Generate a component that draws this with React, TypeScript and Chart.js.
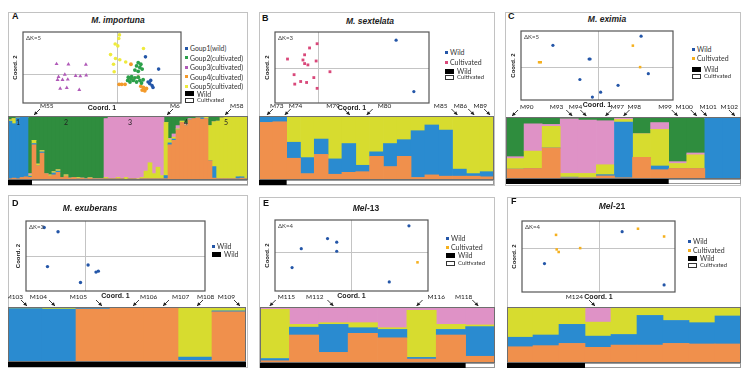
import React, { useEffect, useRef } from 'react';
import { Chart, registerables } from 'chart.js';
Chart.register(...registerables);

const FONT = '"Liberation Sans", Arial, sans-serif';
const SMALL_FONT = 'Lato, "Liberation Sans", sans-serif';

// STRUCTURE clusters, bottom -> top
const CLUSTER_NAMES = ['orange', 'blue', 'yellow', 'pink', 'green'];
const CLUSTER_COLORS = ['#f0904c', '#2a8bd0', '#d7dc2f', '#df92c6', '#2f8d3e'];

// ---------- STRUCTURE membership rows [orange, blue, yellow, pink, green] ----------
const structA = [
  [0.02, 0.90, 0.02, 0, 0.06], [0.03, 0.85, 0.08, 0, 0.04], [0.02, 0.95, 0, 0, 0.03], [0.04, 0.94, 0, 0, 0.02], [0.05, 0.93, 0, 0, 0.02],
  [0.04, 0.02, 0.02, 0.02, 0.90], [0.55, 0.02, 0.05, 0, 0.38], [0.22, 0, 0.03, 0, 0.75], [0.42, 0.02, 0.02, 0, 0.54], [0.10, 0, 0, 0, 0.90],
  [0.06, 0, 0.02, 0, 0.92], [0.08, 0.03, 0.02, 0, 0.87], [0.12, 0.02, 0.02, 0, 0.84], [0.04, 0, 0, 0, 0.96], [0.06, 0, 0.02, 0, 0.92],
  [0.03, 0, 0, 0, 0.97], [0.04, 0, 0, 0, 0.96], [0.02, 0, 0.02, 0, 0.96], [0.03, 0, 0, 0, 0.97], [0.02, 0, 0, 0, 0.98],
  [0.03, 0, 0.01, 0, 0.96], [0.02, 0, 0, 0, 0.98], [0.02, 0, 0, 0, 0.98], [0.02, 0, 0, 0, 0.98],
  [0.02, 0, 0.02, 0.92, 0.04], [0.02, 0, 0, 0.96, 0.02], [0.02, 0, 0, 0.97, 0.01], [0.02, 0, 0.02, 0.94, 0.02], [0.02, 0, 0, 0.96, 0.02],
  [0.01, 0, 0.03, 0.95, 0.01], [0.02, 0, 0, 0.97, 0.01], [0.02, 0, 0, 0.96, 0.02], [0.01, 0, 0.01, 0.97, 0.01], [0.02, 0, 0.02, 0.95, 0.01],
  [0.02, 0, 0.12, 0.85, 0.01], [0.02, 0, 0.25, 0.72, 0.01], [0.02, 0, 0.08, 0.89, 0.01], [0.02, 0, 0.18, 0.79, 0.01], [0.02, 0, 0.05, 0.92, 0.01],
  [0.02, 0.05, 0.83, 0, 0.10], [0.55, 0.03, 0.05, 0.02, 0.35], [0.62, 0.02, 0.03, 0.05, 0.28], [0.78, 0, 0.02, 0.05, 0.15], [0.90, 0, 0.02, 0, 0.08],
  [0.85, 0, 0.01, 0.02, 0.12], [0.94, 0, 0, 0.02, 0.04], [0.96, 0, 0, 0, 0.04], [0.97, 0, 0, 0, 0.03], [0.95, 0.02, 0, 0, 0.03], [0.96, 0, 0.02, 0, 0.02],
  [0.30, 0, 0.55, 0, 0.15], [0.03, 0.18, 0.70, 0, 0.09], [0.02, 0, 0.90, 0, 0.08], [0.02, 0, 0.95, 0, 0.03], [0.02, 0, 0.96, 0, 0.02],
  [0.02, 0, 0.97, 0, 0.01], [0.02, 0, 0.96, 0, 0.02], [0.02, 0.03, 0.93, 0, 0.02], [0.03, 0.02, 0.93, 0, 0.02], [0.02, 0, 0.97, 0, 0.01],
];
const structB = [
  [0.90, 0.10, 0, 0, 0], [0.91, 0.09, 0, 0, 0], [0.34, 0.25, 0.41, 0, 0], [0.10, 0.25, 0.65, 0, 0], [0.40, 0.24, 0.36, 0, 0],
  [0.09, 0.24, 0.67, 0, 0], [0.12, 0.45, 0.43, 0, 0], [0.13, 0.10, 0.77, 0, 0], [0.37, 0.07, 0.56, 0, 0], [0.21, 0.36, 0.43, 0, 0],
  [0.37, 0.26, 0.37, 0, 0], [0.04, 0.73, 0.23, 0, 0], [0.08, 0.78, 0.14, 0, 0], [0.06, 0.72, 0.22, 0, 0], [0.06, 0.11, 0.83, 0, 0],
  [0.06, 0.04, 0.90, 0, 0], [0.05, 0.08, 0.87, 0, 0],
];
const structC = [
  [0.16, 0, 0.17, 0.03, 0.64], [0.17, 0, 0.28, 0.44, 0.11], [0.50, 0, 0.35, 0.03, 0.12], [0.02, 0.01, 0.06, 0.88, 0.03],
  [0.02, 0, 0.07, 0.86, 0.05], [0.05, 0.02, 0.16, 0.71, 0.06], [0.02, 0.90, 0.04, 0.02, 0.02], [0.35, 0, 0.38, 0, 0.27],
  [0.15, 0.06, 0.59, 0.11, 0.09], [0.17, 0, 0.08, 0.03, 0.72], [0.17, 0, 0.22, 0.03, 0.58], [0, 0.98, 0, 0, 0.02], [0, 0.98, 0, 0.01, 0.01],
];
const structD = [
  [0, 0.97, 0.03, 0, 0], [0, 0.96, 0.04, 0, 0], [0.96, 0.03, 0.01, 0, 0], [0.98, 0, 0.02, 0, 0],
  [0.98, 0, 0.02, 0, 0], [0.03, 0.06, 0.91, 0, 0], [0.91, 0.02, 0.07, 0, 0],
];
const structE = [
  [0.04, 0.04, 0.88, 0.04, 0], [0.50, 0.14, 0.05, 0.31, 0], [0.19, 0.50, 0.03, 0.28, 0], [0.53, 0.10, 0.09, 0.28, 0],
  [0.45, 0.15, 0.03, 0.37, 0], [0.07, 0.03, 0.84, 0.06, 0], [0.50, 0.10, 0.09, 0.31, 0], [0.12, 0.53, 0.03, 0.32, 0],
];
const structF = [
  [0.29, 0.17, 0.54, 0, 0], [0.31, 0.19, 0.50, 0, 0], [0.35, 0.34, 0.31, 0, 0], [0.28, 0.20, 0.25, 0.27, 0], [0.32, 0.19, 0.49, 0, 0],
  [0.32, 0.53, 0.15, 0, 0], [0.35, 0.41, 0.24, 0, 0], [0.34, 0.38, 0.28, 0, 0], [0.34, 0.50, 0.16, 0, 0],
];

// number of wild individuals (black strip) per panel
const wildA = 6, wildB = 2, wildC = 9, wildD = 7, wildE = 7, wildF = 3;

// sample labels above STRUCTURE plots:
// [label, individual index, arrow side ('R' = label right of tip), tip shift px, label gap px]
const markersA = [['M55', 6, 'R', 0, 6], ['M6', 39, 'R', 1, 3], ['M58', 54, 'R', -1, 5]];
const markersB = [['M73', 0, 'R', 1, 3], ['M74', 1, 'R', 5, 4], ['M79', 6, 'L', 1, 10], ['M80', 7, 'R', 4, 11], ['M85', 14, 'L', -2, 10], ['M86', 15, 'L', 1, 7], ['M89', 16, 'L', 3, 3]];
const markersC = [['M90', 0, 'R', -3, 8], ['M93', 3, 'L', 3, 9], ['M94', 4, 'L', -1, 4], ['M97', 5, 'R', 0, 5], ['M98', 6, 'R', 0, 4], ['M99', 9, 'L', 0, 6], ['M100', 10, 'L', 1, 4], ['M101', 11, 'L', -7, -10], ['M102', 12, 'L', 3, -3]];
const markersD = [['M103', 0, 'L', 2, 4], ['M104', 1, 'L', -4, 8], ['M105', 2, 'L', 9, 15], ['M106', 3, 'R', 6, 7], ['M107', 4, 'R', 2, 9], ['M108', 5, 'R', 2, 0], ['M109', 6, 'L', 11, 5]];
const markersE = [['M115', 0, 'R', -5, 8], ['M112', 2, 'L', 0, 10], ['M116', 5, 'R', -5, 11], ['M118', 7, 'L', -2, 6]];
const markersF = [['M124', 3, 'L', -3, 12]];
const groupLabelsA = [['1', 2], ['2', 14], ['3', 30], ['4', 44], ['5', 54]];

// ---------- PCoA coordinates [coord1, coord2] ----------
const pcoaA_group1 = [[0.85, 0.53], [1.25, 0.15], [1.01, -0.20], [0.98, -0.30], [1.05, -0.36], [1.08, -0.42], [0.93, -0.25]];
const pcoaA_group2 = [[0.63, 0.35], [0.71, 0.30], [0.58, 0.25], [0.68, 0.20], [0.75, 0.15], [0.53, 0.12], [0.63, 0.08], [0.33, -0.10], [0.41, -0.15], [0.48, -0.20], [0.58, -0.25], [0.68, -0.20], [0.31, -0.20], [0.43, -0.08], [0.78, -0.18], [0.53, -0.12], [0.63, -0.10], [0.38, -0.25], [0.73, -0.28]];
const pcoaA_group3 = [[-1.85, 0.31], [-1.49, 0.30], [-0.96, 0.29], [-1.79, -0.09], [-1.60, -0.02], [-1.51, -0.17], [-1.67, -0.18], [-1.27, -0.06], [-1.13, -0.07], [-0.95, -0.04], [-1.82, -0.18], [-1.54, -0.43], [-1.74, -0.45], [-1.16, -0.49]];
const pcoaA_group4 = [[0.41, 0.30], [0.05, -0.32], [0.13, -0.32], [0.23, -0.32], [0.63, -0.10], [0.71, -0.38], [0.75, -0.50], [0.83, -0.52], [0.88, -0.45], [0.48, -0.15], [0.36, -0.12], [0.79, -0.42]];
const pcoaA_group5 = [[0.06, 1.21], [0.04, 1.10], [-0.07, 0.93], [0.01, 0.87], [0.79, 0.79], [-0.21, 0.60], [-0.06, 0.48], [0.07, 0.44], [0.25, 0.37], [-0.12, 0.30], [-0.10, 0.07]];
const pcoaB_wild = [[2.36, 0.85], [2.90, -0.73]];
const pcoaB_cultivated = [[-0.04, 0.74], [-0.27, 0.61], [-0.94, 0.27], [-0.42, 0.40], [-0.47, 0.24], [-0.42, 0.13], [-0.32, 0.09], [-0.07, 0.21], [0.35, -0.12], [-0.74, -0.21], [-0.14, -0.30], [-0.72, -0.50], [-0.54, -0.42], [-0.36, -0.45], [-0.04, -0.63]];
const pcoaC_wild = [[-1.37, 0.66], [-0.27, 0.24], [-0.24, 0.24], [-0.55, -0.39], [-0.17, -0.93], [0.08, -0.78], [0.61, -0.57], [1.53, -0.21], [1.31, 0.94]];
const pcoaC_cultivated = [[-1.79, 0.14], [-1.74, 0.14], [1.06, 0.65], [1.28, -0.01]];
const pcoaD_wild = [[-1.25, 0.89], [-0.83, 0.76], [-1.15, -0.31], [0.08, -0.26], [0.32, -0.48], [0.39, -0.45], [-0.15, -0.80]];
const pcoaE_wild = [[-0.70, 0.41], [-0.42, 0.30], [-0.42, 0.02], [-1.50, 0.10], [-1.78, -0.48], [1.78, 0.80], [1.18, -0.92]];
const pcoaE_cultivated = [[2.04, -0.32]];
const pcoaF_wild = [[-1.64, -0.49], [0.71, 0.50], [1.98, -1.15]];
const pcoaF_cultivated = [[-1.29, 0.40], [-1.27, -0.05], [-1.21, -0.13], [-0.56, -0.01], [1.19, 0.59], [1.98, 0.35]];

const C_WILD = '#2456a8';
const C_CULT = '#f5b01e';

// ---------- drawing helpers ----------
function drawArrow(ctx: any, x1: number, y1: number, x2: number, y2: number) {
  ctx.beginPath(); ctx.moveTo(x1, y1); ctx.lineTo(x2, y2); ctx.stroke();
  const ang = Math.atan2(y2 - y1, x2 - x1); const L = 4;
  ctx.beginPath(); ctx.moveTo(x2, y2);
  ctx.lineTo(x2 - L * Math.cos(ang - 0.5), y2 - L * Math.sin(ang - 0.5));
  ctx.lineTo(x2 - L * Math.cos(ang + 0.5), y2 - L * Math.sin(ang + 0.5));
  ctx.closePath(); ctx.fill();
}

const S_PAD_TOP = 22, S_PAD_BOTTOM = 8;

function StructureChart({ rows, box, wildCount, markers, groupLabels }: any) {
  const ref = useRef<HTMLCanvasElement>(null);
  useEffect(() => {
    const decor = {
      id: 'structDecor',
      afterDatasetsDraw(chart: any) {
        const { ctx, chartArea: a, scales } = chart;
        const x = scales.x;
        ctx.save();
        ctx.strokeStyle = '#6e6e6e'; ctx.lineWidth = 1;
        ctx.strokeRect(a.left + 0.5, a.top + 0.5, a.right - a.left - 1, a.bottom - a.top - 1);
        const step = x.getPixelForValue(1) - x.getPixelForValue(0);
        const wEnd = wildCount >= rows.length ? a.right : x.getPixelForValue(wildCount) - step / 2;
        ctx.fillStyle = '#fff'; ctx.fillRect(a.left, a.bottom, a.right - a.left, 5);
        ctx.strokeStyle = '#999'; ctx.strokeRect(a.left + 0.5, a.bottom + 0.5, a.right - a.left - 1, 4);
        ctx.fillStyle = '#000'; ctx.fillRect(a.left, a.bottom, wEnd - a.left, 5);
        ctx.font = '6.5px ' + SMALL_FONT; ctx.textBaseline = 'middle';
        ctx.fillStyle = '#222'; ctx.strokeStyle = '#222'; ctx.lineWidth = 0.9;
        markers.forEach(([label, idx, side, shift, gap]: any) => {
          const tx = x.getPixelForValue(idx) + shift; const ty = a.top - 1;
          const dir = side === 'R' ? 1 : -1;
          drawArrow(ctx, tx + dir * 6, ty - 6, tx, ty);
          ctx.textAlign = side === 'R' ? 'left' : 'right';
          ctx.fillText(label, tx + dir * gap, a.top - 10);
        });
        if (groupLabels) {
          ctx.textAlign = 'center'; ctx.font = '7px ' + SMALL_FONT;
          groupLabels.forEach(([t, idx]: any) => ctx.fillText(t, x.getPixelForValue(idx), a.top + 7));
        }
        ctx.restore();
      },
    };
    const chart = new Chart(ref.current as any, {
      type: 'bar',
      data: {
        labels: rows.map((_: any, i: number) => String(i + 1)),
        datasets: CLUSTER_NAMES.map((n, k) => ({
          label: n, data: rows.map((r: number[]) => r[k]), backgroundColor: CLUSTER_COLORS[k],
          borderWidth: 0, barPercentage: 1, categoryPercentage: 1,
        })),
      },
      options: {
        responsive: false, animation: false,
        layout: { padding: { top: S_PAD_TOP, bottom: S_PAD_BOTTOM, left: 0, right: 0 } },
        plugins: { legend: { display: false }, tooltip: { enabled: false } },
        scales: {
          x: { display: false, stacked: true },
          y: { display: false, stacked: true, min: 0, max: 1 },
        },
      },
      plugins: [decor],
    } as any);
    return () => chart.destroy();
  }, []);
  return <canvas ref={ref} width={box.w} height={box.h + S_PAD_TOP + S_PAD_BOTTOM}
    style={{ position: 'absolute', left: box.x, top: box.y - S_PAD_TOP }} />;
}

const P_PAD = { left: 16, top: 2, right: 2, bottom: 12 };

function PcoaChart({ box, xRange, yRange, series, deltaK }: any) {
  const ref = useRef<HTMLCanvasElement>(null);
  useEffect(() => {
    const decor = {
      id: 'pcoaDecor',
      beforeDatasetsDraw(chart: any) {
        const { ctx, chartArea: a, scales } = chart;
        const x0 = Math.round(scales.x.getPixelForValue(0)) + 0.5;
        const y0 = Math.round(scales.y.getPixelForValue(0)) + 0.5;
        ctx.save(); ctx.strokeStyle = '#c4c4c4'; ctx.lineWidth = 1;
        ctx.beginPath(); ctx.moveTo(x0, a.top); ctx.lineTo(x0, a.bottom); ctx.moveTo(a.left, y0); ctx.lineTo(a.right, y0); ctx.stroke();
        ctx.restore();
      },
      afterDatasetsDraw(chart: any) {
        const { ctx, chartArea: a } = chart;
        ctx.save();
        ctx.strokeStyle = '#555'; ctx.lineWidth = 1.2;
        ctx.strokeRect(a.left, a.top, a.right - a.left, a.bottom - a.top);
        ctx.fillStyle = '#444'; ctx.font = '6px ' + SMALL_FONT; ctx.textAlign = 'left'; ctx.textBaseline = 'middle';
        ctx.fillText('ΔK=' + deltaK, a.left + 3, a.top + 6);
        ctx.fillStyle = '#222'; ctx.font = 'bold 7px ' + FONT; ctx.textAlign = 'center';
        ctx.fillText('Coord. 1', (a.left + a.right) / 2, a.bottom + 5);
        ctx.translate(a.left - 8, (a.top + a.bottom) / 2); ctx.rotate(-Math.PI / 2);
        ctx.font = 'bold 6px ' + FONT;
        ctx.fillText('Coord. 2', 0, 0);
        ctx.restore();
      },
    };
    const chart = new Chart(ref.current as any, {
      type: 'scatter',
      data: {
        datasets: series.map((s: any) => ({
          label: s.label, data: s.points.map(([x, y]: number[]) => ({ x, y })),
          pointStyle: s.style, pointRadius: s.radius, backgroundColor: s.color, borderColor: s.color, borderWidth: 0,
        })),
      },
      options: {
        responsive: false, animation: false,
        layout: { padding: P_PAD },
        plugins: { legend: { display: false }, tooltip: { enabled: false } },
        scales: {
          x: { display: false, min: xRange[0], max: xRange[1] },
          y: { display: false, min: yRange[0], max: yRange[1] },
        },
      },
      plugins: [decor],
    } as any);
    return () => chart.destroy();
  }, []);
  return <canvas ref={ref} width={box.w + P_PAD.left + P_PAD.right} height={box.h + P_PAD.top + P_PAD.bottom}
    style={{ position: 'absolute', left: box.x - P_PAD.left, top: box.y - P_PAD.top }} />;
}

function Legend({ x, ys, items, size }: any) {
  return <>{items.map((it: any, i: number) => (
    <div key={i} style={{
      position: 'absolute', left: x, top: ys[i] - 5, height: 10, display: 'flex', alignItems: 'center',
      whiteSpace: 'nowrap', fontFamily: SMALL_FONT, fontSize: it.kind === 'white' ? 6 : (size || 7), color: '#333', lineHeight: '10px',
    }}>
      {it.kind === 'dot' && <span style={{ display: 'inline-block', width: 3, height: 3, background: it.color, marginRight: 2 }} />}
      {it.kind === 'black' && <span style={{ display: 'inline-block', width: 9, height: 5, background: '#000', marginRight: 3 }} />}
      {it.kind === 'white' && <span style={{ display: 'inline-block', width: 7, height: 3, border: '1px solid #333', marginRight: 3 }} />}
      {it.text}
    </div>
  ))}</>;
}

const wildDot = (t = 'Wild') => ({ kind: 'dot', color: C_WILD, text: t });
const cultDot = (c = C_CULT) => ({ kind: 'dot', color: c, text: 'Cultivated' });
const blackWild = { kind: 'black', text: 'Wild' };
const whiteCult = { kind: 'white', text: 'Cultivated' };

const panels = [
  {
    letter: 'A', title: <i>M. importuna</i>, titleX: 118, titleY: 20, letterX: 12, letterY: 11,
    frame: { x: 8, y: 12, w: 240, h: 174 },
    struct: { rows: structA, box: { x: 8, y: 116, w: 240, h: 64 }, wild: wildA, markers: markersA, groups: groupLabelsA },
    pcoa: {
      box: { x: 23, y: 30, w: 160, h: 73 }, xRange: [-2.87, 1.93], yRange: [-0.9, 1.3], deltaK: 5,
      series: [
        { label: 'Goup1(wild)', color: C_WILD, style: 'circle', radius: 1.8, points: pcoaA_group1 },
        { label: 'Goup2(cultivated)', color: '#2ca04a', style: 'circle', radius: 1.9, points: pcoaA_group2 },
        { label: 'Goup3(cultivated)', color: '#b05ab8', style: 'triangle', radius: 2.3, points: pcoaA_group3 },
        { label: 'Goup4(cultivated)', color: '#f39a2a', style: 'circle', radius: 1.9, points: pcoaA_group4 },
        { label: 'Goup5(cultivated)', color: '#eeea3c', style: 'circle', radius: 1.8, points: pcoaA_group5 },
      ],
    },
    legend: {
      x: 185, ys: [48, 57.5, 67, 76.5, 86, 93.5, 100], size: 6.8,
      items: [
        { kind: 'dot', color: C_WILD, text: 'Goup1(wild)' }, { kind: 'dot', color: '#2ca04a', text: 'Goup2(cultivated)' },
        { kind: 'dot', color: '#b05ab8', text: 'Goup3(cultivated)' }, { kind: 'dot', color: '#f39a2a', text: 'Goup4(cultivated)' },
        { kind: 'dot', color: '#eeea3c', text: 'Goup5(cultivated)' }, blackWild, whiteCult,
      ],
    },
  },
  {
    letter: 'B', title: <i>M. sextelata</i>, titleX: 370, titleY: 21, letterX: 262, letterY: 13,
    frame: { x: 259, y: 12, w: 236, h: 174 },
    struct: { rows: structB, box: { x: 259, y: 116, w: 235, h: 64 }, wild: wildB, markers: markersB },
    pcoa: {
      box: { x: 275, y: 30, w: 156, h: 73 }, xRange: [-1.32, 3.36], yRange: [-1.08, 1.10], deltaK: 3,
      series: [
        { label: 'Wild', color: C_WILD, style: 'circle', radius: 1.6, points: pcoaB_wild },
        { label: 'Cultivated', color: '#d9487a', style: 'rect', radius: 2, points: pcoaB_cultivated },
      ],
    },
    legend: { x: 445, ys: [52, 62, 71, 77], items: [wildDot(), cultDot('#d9487a'), blackWild, whiteCult] },
  },
  {
    letter: 'C', title: <i>M. eximia</i>, titleX: 607, titleY: 19, letterX: 508, letterY: 11,
    frame: { x: 505, y: 12, w: 236, h: 174 },
    struct: { rows: structC, box: { x: 506, y: 117, w: 235, h: 62 }, wild: wildC, markers: markersC },
    pcoa: {
      box: { x: 521, y: 29, w: 154, h: 71 }, xRange: [-2.34, 2.28], yRange: [-1.02, 1.10], deltaK: 5,
      series: [
        { label: 'Wild', color: C_WILD, style: 'circle', radius: 1.6, points: pcoaC_wild },
        { label: 'Cultivated', color: C_CULT, style: 'rect', radius: 1.8, points: pcoaC_cultivated },
      ],
    },
    legend: { x: 692, ys: [49, 58, 69, 76], items: [wildDot(), cultDot(), blackWild, whiteCult] },
  },
  {
    letter: 'D', title: <i>M. exuberans</i>, titleX: 90, titleY: 208, letterX: 12, letterY: 198,
    frame: { x: 8, y: 195, w: 240, h: 173 },
    struct: { rows: structD, box: { x: 8, y: 307, w: 238, h: 55 }, wild: wildD, markers: markersD },
    pcoa: {
      box: { x: 26, y: 219, w: 181, h: 72 }, xRange: [-1.80, 3.62], yRange: [-1.06, 1.09], deltaK: 3,
      series: [{ label: 'Wild', color: C_WILD, style: 'circle', radius: 1.7, points: pcoaD_wild }],
    },
    legend: { x: 212, ys: [246, 254], items: [wildDot(), blackWild] },
  },
  {
    letter: 'E', title: <><i>Mel</i>-13</>, titleX: 366, titleY: 208, letterX: 263, letterY: 198,
    frame: { x: 259, y: 197, w: 236, h: 171 },
    struct: { rows: structE, box: { x: 260, y: 307, w: 235, h: 56 }, wild: wildE, markers: markersE },
    pcoa: {
      box: { x: 275, y: 218, w: 155, h: 73 }, xRange: [-2.30, 2.36], yRange: [-1.20, 0.98], deltaK: 4,
      series: [
        { label: 'Wild', color: C_WILD, style: 'circle', radius: 1.6, points: pcoaE_wild },
        { label: 'Cultivated', color: C_CULT, style: 'rect', radius: 1.8, points: pcoaE_cultivated },
      ],
    },
    legend: { x: 446, ys: [238, 247, 255, 263], items: [wildDot(), cultDot(), blackWild, whiteCult] },
  },
  {
    letter: 'F', title: <><i>Mel</i>-21</>, titleX: 612, titleY: 206, letterX: 511, letterY: 196,
    frame: { x: 507, y: 197, w: 234, h: 171 },
    struct: { rows: structF, box: { x: 507, y: 307, w: 234, h: 56 }, wild: wildF, markers: markersF },
    pcoa: {
      box: { x: 522, y: 219, w: 155, h: 73 }, xRange: [-2.32, 2.31], yRange: [-1.37, 0.83], deltaK: 4,
      series: [
        { label: 'Wild', color: C_WILD, style: 'circle', radius: 1.6, points: pcoaF_wild },
        { label: 'Cultivated', color: C_CULT, style: 'rect', radius: 1.8, points: pcoaF_cultivated },
      ],
    },
    legend: { x: 688, ys: [241, 250, 258, 265], items: [wildDot(), cultDot(), blackWild, whiteCult] },
  },
];

export default function App() {
  return (
    <div style={{ position: 'fixed', left: 0, top: 0, width: 744, height: 375, background: '#fff', overflow: 'hidden', fontFamily: FONT }}>
      {panels.map((p) => (
        <React.Fragment key={p.letter}>
          <div style={{ position: 'absolute', left: p.frame.x, top: p.frame.y, width: p.frame.w, height: p.frame.h, border: '1px solid #c2c2c2', boxSizing: 'border-box' }} />
          <div style={{ position: 'absolute', left: p.letterX, top: p.letterY, fontSize: 9, fontWeight: 'bold', color: '#111' }}>{p.letter}</div>
          <div style={{ position: 'absolute', left: p.titleX - 60, width: 120, textAlign: 'center', top: p.titleY - 6, fontSize: 8.5, fontWeight: 'bold', color: '#222', lineHeight: '12px' }}>{p.title}</div>
          <PcoaChart box={p.pcoa.box} xRange={p.pcoa.xRange} yRange={p.pcoa.yRange} series={p.pcoa.series} deltaK={p.pcoa.deltaK} />
          <Legend x={p.legend.x} ys={p.legend.ys} items={p.legend.items} size={(p.legend as any).size} />
          <StructureChart rows={p.struct.rows} box={p.struct.box} wildCount={p.struct.wild} markers={p.struct.markers} groupLabels={(p.struct as any).groups} />
        </React.Fragment>
      ))}
    </div>
  );
}
